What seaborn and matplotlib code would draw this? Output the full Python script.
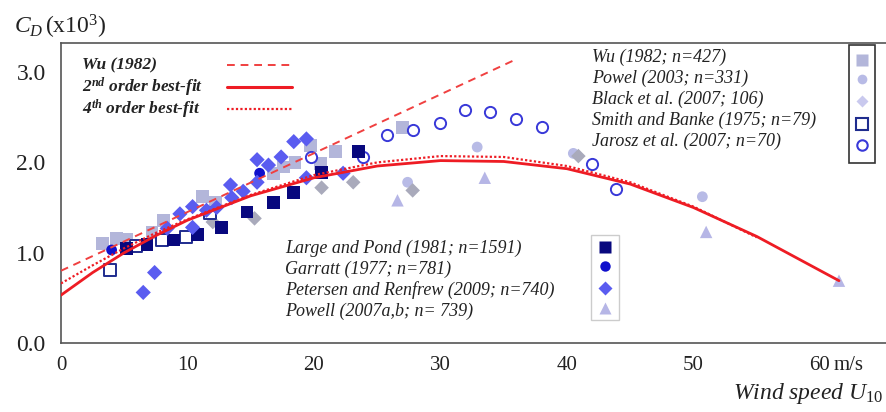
import numpy as np
import matplotlib
matplotlib.use("Agg")
import matplotlib.pyplot as plt
from matplotlib.lines import Line2D
from matplotlib.patches import Rectangle
import seaborn as sns

# values: U10 (m/s) and Cd x 10^3
wu_u = [3.3, 4.4, 5.2, 7.2, 8.1, 11.2, 12.2, 16.8, 17.6, 18.5, 19.7, 20.5, 21.7, 27.0]
wu_cd = [1.10, 1.16, 1.15, 1.22, 1.36, 1.62, 1.56, 1.88, 1.95, 2.00, 2.19, 1.99, 2.12, 2.39]

powel_u = [27.4, 32.9, 40.5, 50.7]
powel_cd = [1.78, 2.17, 2.10, 1.62]

black_u = [12.0, 15.3, 20.6, 23.1, 27.8, 40.9]
black_cd = [1.34, 1.38, 1.72, 1.78, 1.69, 2.07]

smith_u = [3.9, 5.9, 8.0, 9.9, 11.8]
smith_cd = [0.81, 1.07, 1.14, 1.17, 1.44]

jarosz_u = [19.8, 23.9, 25.8, 27.8, 30.0, 31.9, 33.9, 36.0, 38.0, 42.0, 43.9]
jarosz_cd = [2.06, 2.06, 2.30, 2.36, 2.44, 2.58, 2.56, 2.48, 2.39, 1.98, 1.71]

large_u = [5.2, 6.8, 8.9, 10.8, 12.7, 14.7, 16.8, 18.4, 20.6, 23.5]
large_cd = [1.05, 1.09, 1.14, 1.20, 1.28, 1.45, 1.56, 1.67, 1.89, 2.12]

garratt_u = [4.0, 15.7]
garratt_cd = [1.03, 1.88]

petersen_u = [6.5, 7.4, 8.4, 9.4, 10.4, 10.4, 11.5, 12.3, 13.4, 13.5, 14.4,
              15.5, 15.5, 16.4, 17.4, 18.4, 19.4, 19.4, 22.3]
petersen_cd = [0.56, 0.78, 1.27, 1.43, 1.51, 1.28, 1.47, 1.50, 1.75, 1.61, 1.68,
               2.03, 1.78, 1.97, 2.06, 2.23, 2.26, 1.83, 1.88]

powell_u = [26.6, 33.5, 51.0, 61.5]
powell_cd = [1.58, 1.83, 1.23, 0.69]

# fitted curves
wu_line_u = [0, 36.1]
wu_line_cd = [0.80, 3.15]
fit2_u = [0, 2.5, 5, 7.5, 10, 15, 20, 25, 30, 35, 40, 45, 50, 55, 61.5]
fit2_cd = [0.53, 0.78, 1.00, 1.19, 1.36, 1.63, 1.83, 1.96, 2.02, 2.01, 1.93, 1.76, 1.50, 1.18, 0.69]
fit4_u = [0, 2.5, 5, 7.5, 10, 15, 20, 25, 30, 35, 40, 45, 50, 55]
fit4_cd = [0.66, 0.86, 1.05, 1.22, 1.37, 1.64, 1.86, 2.00, 2.07, 2.06, 1.96, 1.78, 1.51, 1.17]

sns.set_style("white")
plt.rcParams["font.family"] = ["Liberation Serif", "DejaVu Serif"]
plt.rcParams["mathtext.fontset"] = "custom"
plt.rcParams["mathtext.rm"] = "Liberation Serif"
plt.rcParams["mathtext.it"] = "Liberation Serif:italic"
plt.rcParams["mathtext.bf"] = "Liberation Serif:italic:bold"

W, H = 886, 412
fig = plt.figure(figsize=(W / 100, H / 100), dpi=100)
ax = fig.add_axes([61 / W, 69 / H, 825 / W, 300 / H])


def px(x, y):
    # pixel position (from top-left) to figure fraction
    return x / W, 1 - y / H


red = "#ee1c24"
wu_ls = (0, (4, 3))
dot_ls = (0, (1, 1))
sns.lineplot(x=wu_line_u, y=wu_line_cd, ax=ax, color="#f04040", lw=1.4,
             linestyle=wu_ls, zorder=4)
sns.lineplot(x=fit2_u, y=fit2_cd, ax=ax, color=red, lw=2.0, zorder=4)
sns.lineplot(x=fit4_u, y=fit4_cd, ax=ax, color=red, lw=1.6, linestyle=dot_ls, zorder=4)

series = [
    (wu_u, wu_cd, "s", "#b3b6da", False, 85),
    (powel_u, powel_cd, "o", "#b8bbe6", False, 60),
    (black_u, black_cd, "D", "#a9aabb", False, 55),
    (smith_u, smith_cd, "s", "#1f2c8e", True, 85),
    (jarosz_u, jarosz_cd, "o", "#3838d8", True, 65),
    (large_u, large_cd, "s", "#08087e", False, 85),
    (garratt_u, garratt_cd, "o", "#1010cc", False, 60),
    (petersen_u, petersen_cd, "D", "#5a5cf0", False, 60),
    (powell_u, powell_cd, "^", "#b6b6e6", False, 80),
]
for xs, ys, mk, col, hollow, size in series:
    if hollow:
        sns.scatterplot(x=xs, y=ys, ax=ax, marker=mk, s=size, facecolor="white",
                        edgecolor=col, linewidth=1.4, zorder=3)
    else:
        sns.scatterplot(x=xs, y=ys, ax=ax, marker=mk, s=size, color=col,
                        edgecolor="none", linewidth=0, zorder=3)

ax.set_xlim(0, 825 / 12.65)
ax.set_ylim(0, 300 / 90.3)
ax.set_xticks([0, 10, 20, 30, 40, 50, 60])
ax.set_xticklabels(["0", "10", "20", "30", "40", "50", "60"])
ax.set_yticks([0, 1, 2, 3])
ax.set_yticklabels(["0.0", "1.0", "2.0", "3.0"])
ax.tick_params(axis="x", direction="in", length=8, width=1, pad=9,
               labelsize=15, colors="#555555", labelcolor="#222222")
ax.tick_params(axis="y", direction="out", length=8, width=1, pad=3,
               labelsize=17, colors="#555555", labelcolor="#222222")
for side in ["left", "bottom", "top"]:
    ax.spines[side].set_color("#555555")
    ax.spines[side].set_linewidth(1.2)
ax.spines["right"].set_visible(False)
ax.set_xlabel("")
ax.set_ylabel("")

ax.annotate("m/s", xy=(60, 0), xycoords=("data", "axes fraction"),
            xytext=(10, -9), textcoords="offset points", ha="left", va="top",
            fontsize=15, color="#222222")

fig.text(0.016, 0.935, r"$C_D\,$(x10$^3$)", fontsize=17, va="center", ha="left",
         color="#222222")
fig.text(0.997, 0.045, r"Wind speed $U_{10}$", fontsize=17, fontstyle="italic",
         va="center", ha="right", color="#222222")

# legend 1: fitted lines (text left, line sample right)
line_labels = ["Wu (1982)", r"2$^{\mathbf{nd}}$ order best-fit", r"4$^{\mathbf{th}}$ order best-fit"]
line_styles = [("#f04040", 1.4, wu_ls), (red, 2.2, "-"), (red, 1.6, dot_ls)]
for lab, (col, lw, ls), ry in zip(line_labels, line_styles, [65, 87, 109]):
    fig.text(*px(82, ry), lab, fontsize=12.5, fontstyle="italic", fontweight="bold",
             va="center", ha="left", color="#222222")
    (x0, y0), (x1, _) = px(227, ry), px(292, ry)
    fig.add_artist(Line2D([x0, x1], [y0, y0], transform=fig.transFigure,
                          color=col, lw=lw, linestyle=ls))


def marker_legend(labels, marks, text_x, text_rows, mark_x, mark_rows, box, box_ec, box_lw):
    for lab, ry in zip(labels, text_rows):
        fig.text(*px(text_x, ry), lab, fontsize=13, fontstyle="italic",
                 va="center", ha="left", color="#222222")
    for (mk, col, hollow, ms), ry in zip(marks, mark_rows):
        fx, fy = px(mark_x, ry)
        if hollow:
            fig.add_artist(Line2D([fx], [fy], transform=fig.transFigure, marker=mk,
                                  markersize=ms, markerfacecolor="white",
                                  markeredgecolor=col, markeredgewidth=1.5, linestyle="none"))
        else:
            fig.add_artist(Line2D([fx], [fy], transform=fig.transFigure, marker=mk,
                                  markersize=ms, markerfacecolor=col,
                                  markeredgecolor="none", linestyle="none"))
    bx0, by0 = px(box[0], box[3])
    bx1, by1 = px(box[2], box[1])
    fig.add_artist(Rectangle((bx0, by0), bx1 - bx0, by1 - by0, transform=fig.transFigure,
                             fill=False, edgecolor=box_ec, lw=box_lw))


tr_labels = ["Wu (1982; n=427)", "Powel (2003; n=331)", "Black et al. (2007; 106)",
             "Smith and Banke (1975; n=79)", "Jarosz et al. (2007; n=70)"]
tr_marks = [("s", "#b3b6da", False, 9), ("o", "#b8bbe6", False, 7),
            ("D", "#c9c9ee", False, 6.5), ("s", "#1f2c8e", True, 9),
            ("o", "#3838d8", True, 7.5)]
marker_legend(tr_labels, tr_marks, 592, [57, 78, 99, 120, 141], 862,
              [60, 79, 101, 124, 145], (849, 45, 875, 163), "#333333", 1.2)

b_labels = ["Large and Pond (1981; n=1591)", "Garratt (1977; n=781)",
            "Petersen and Renfrew (2009; n=740)", "Powell (2007a,b; n= 739)"]
b_marks = [("s", "#08087e", False, 9), ("o", "#1010cc", False, 7.5),
           ("D", "#5a5cf0", False, 7), ("^", "#b6b6e6", False, 8)]
marker_legend(b_labels, b_marks, 285, [248, 269, 290, 311], 605,
              [247, 266, 288, 308], (591, 235, 619, 320), "#cccccc", 1.0)

fig.savefig("out.png", dpi=100)
